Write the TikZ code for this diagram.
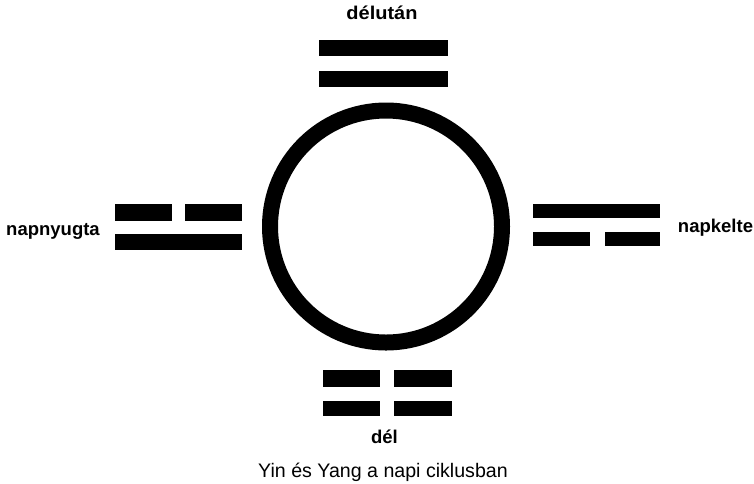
\documentclass[tikz,border=0pt]{standalone}
\usepackage{fontspec}
\setmainfont{Liberation Sans}
\begin{document}
\begin{tikzpicture}[x=1pt,y=-1pt,
  bar/.style={fill=black,draw=none,inner sep=0pt,outer sep=0pt},
  lbl/.style={inner sep=0pt,anchor=base,font=\fontsize{18.5}{20}\selectfont\bfseries},
  captiontext/.style={inner sep=0pt,anchor=base,font=\fontsize{19.6}{24}\selectfont},
  ring/.style={circle,draw=black,line width=16pt,minimum size=232pt,inner sep=0pt}]
\useasboundingbox (0,0) rectangle (754,483);
% ring
\node[ring] (ring) at (386,226.5) {};
% top trigram (délután)
\node[bar,minimum width=129pt,minimum height=16pt] (t1) at (383.5,48) {};
\node[bar,minimum width=129pt,minimum height=16pt] (t2) at (383.5,79) {};
\node[lbl] (delutan) at (382,19) {\scalebox{1.08}[1]{délután}};
% left trigram (napnyugta)
\node[bar,minimum width=57pt,minimum height=17pt] (l1) at (143.5,212.5) {};
\node[bar,minimum width=57pt,minimum height=17pt] (l2) at (213.5,212.5) {};
\node[bar,minimum width=127pt,minimum height=16pt] (l3) at (178.5,242) {};
\node[lbl] (napnyugta) at (53,235) {napnyugta};
% right trigram (napkelte)
\node[bar,minimum width=127pt,minimum height=14pt] (r1) at (596.5,211) {};
\node[bar,minimum width=57pt,minimum height=14pt] (r2) at (561.5,239) {};
\node[bar,minimum width=55pt,minimum height=14pt] (r3) at (632.5,239) {};
\node[lbl] (napkelte) at (715.5,232) {napkelte};
% bottom trigram (dél)
\node[bar,minimum width=57pt,minimum height=17pt] (b1) at (351.5,378.5) {};
\node[bar,minimum width=58pt,minimum height=17pt] (b2) at (423,378.5) {};
\node[bar,minimum width=57pt,minimum height=15pt] (b3) at (351.5,408.5) {};
\node[bar,minimum width=58pt,minimum height=15pt] (b4) at (423,408.5) {};
\node[lbl] (del) at (384.5,443) {dél};
% caption
\node[captiontext] (caption) at (383,477) {Yin és Yang a napi ciklusban};
\end{tikzpicture}
\end{document}
